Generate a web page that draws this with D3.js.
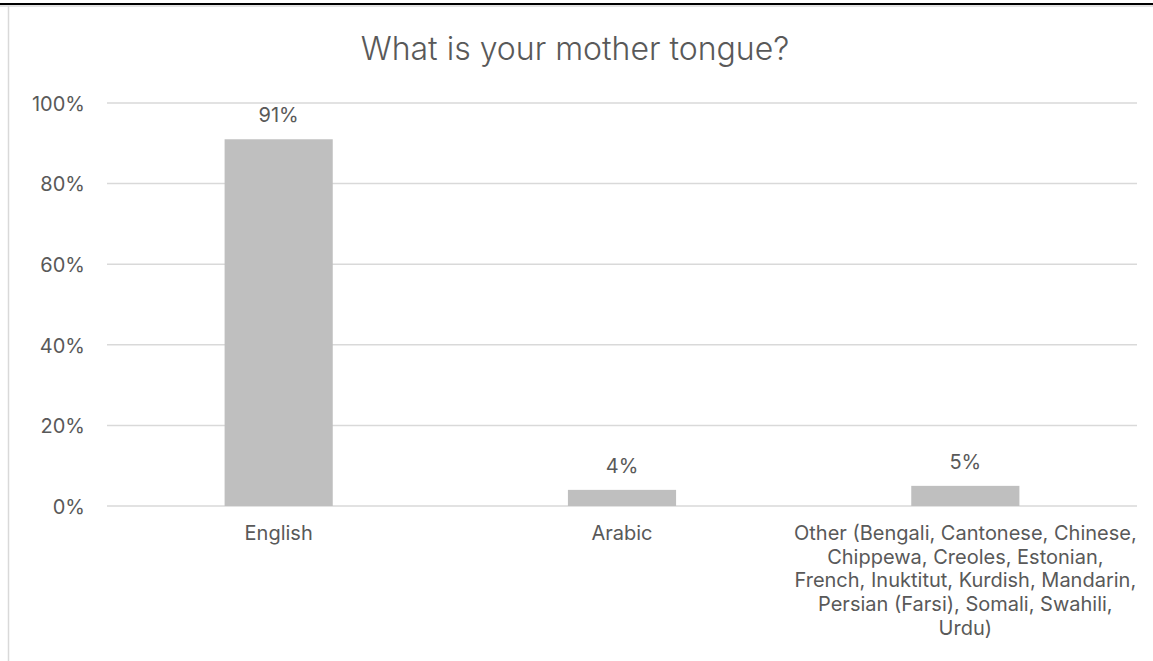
<!DOCTYPE html>
<html>
<head>
<meta charset="utf-8">
<script src="https://cdn.jsdelivr.net/npm/d3@7"></script>
<style>
  html, body { margin: 0; padding: 0; background: #fff; }
  svg { display: block; }
</style>
</head>
<body>
<svg id="chart" width="1153" height="661"></svg>
<script>
// Survey answers: share of respondents by mother tongue
const categories = ["English", "Arabic", "Other"];
const categoryLabels = [
  ["English"],
  ["Arabic"],
  ["Other (Bengali, Cantonese, Chinese,", "Chippewa, Creoles, Estonian,", "French, Inuktitut, Kurdish, Mandarin,", "Persian (Farsi), Somali, Swahili,", "Urdu)"]
];
const shares = [0.91, 0.04, 0.05];
const yTicks = [0, 0.2, 0.4, 0.6, 0.8, 1.0];
const title = "What is your mother tongue?";

const W = 1153, H = 661;
const margin = { left: 107, right: 16, top: 103, bottom: 155 };
const font = "Inter, 'Open Sans', sans-serif";
const textColor = "#595959";

const svg = d3.select("#chart");

// page rule and chart frame edges
svg.append("rect").attr("x", 0).attr("y", 3).attr("width", W).attr("height", 2).attr("fill", "#000");
svg.append("line").attr("x1", 0).attr("x2", W).attr("y1", 6).attr("y2", 6)
  .attr("stroke", "#e3e3e3").attr("stroke-width", 2);
svg.append("line").attr("x1", 8.5).attr("x2", 8.5).attr("y1", 6).attr("y2", H)
  .attr("stroke", "#d9d9d9").attr("stroke-width", 1.5);

const x = d3.scaleBand()
  .domain(categories)
  .range([margin.left, W - margin.right])
  .paddingInner(0.685)
  .paddingOuter(0.3425);

const y = d3.scaleLinear()
  .domain([0, 1])
  .range([H - margin.bottom, margin.top]);

// title
svg.append("text")
  .attr("x", 575).attr("y", 60)
  .attr("text-anchor", "middle")
  .attr("font-family", font).attr("font-size", 32).attr("font-weight", 300)
  .attr("fill", textColor)
  .text(title);

// gridlines
svg.append("g")
  .selectAll("line")
  .data(yTicks)
  .join("line")
  .attr("x1", margin.left).attr("x2", W - margin.right)
  .attr("y1", d => y(d)).attr("y2", d => y(d))
  .attr("stroke", "#d9d9d9").attr("stroke-width", 1.5);

// y axis labels
const yAxis = d3.axisLeft(y).tickValues(yTicks).tickFormat(d3.format(".0%")).tickSize(0).tickPadding(22);
const yg = svg.append("g").attr("transform", `translate(${margin.left},0)`).call(yAxis);
yg.select(".domain").remove();
yg.selectAll("text")
  .attr("dy", "0.36em")
  .attr("font-family", font).attr("font-size", 20).attr("fill", textColor);

// bars
svg.append("g")
  .selectAll("rect")
  .data(categories)
  .join("rect")
  .attr("x", d => x(d))
  .attr("width", x.bandwidth())
  .attr("y", (d, i) => y(shares[i]))
  .attr("height", (d, i) => y(0) - y(shares[i]))
  .attr("fill", "#bfbfbf");

// value labels
svg.append("g")
  .selectAll("text")
  .data(categories)
  .join("text")
  .attr("x", d => x(d) + x.bandwidth() / 2)
  .attr("y", (d, i) => y(shares[i]) - 17)
  .attr("text-anchor", "middle")
  .attr("font-family", font).attr("font-size", 20).attr("fill", textColor)
  .text((d, i) => d3.format(".0%")(shares[i]));

// category labels
const cat = svg.append("g")
  .selectAll("text")
  .data(categories)
  .join("text")
  .attr("text-anchor", "middle")
  .attr("font-family", font).attr("font-size", 20).attr("fill", textColor);
cat.each(function(d, i) {
  const t = d3.select(this);
  categoryLabels[i].forEach((line, j) => {
    t.append("tspan")
      .attr("x", x(d) + x.bandwidth() / 2)
      .attr("y", y(0) + 34 + j * 23.7)
      .text(line);
  });
});
</script>
</body>
</html>
